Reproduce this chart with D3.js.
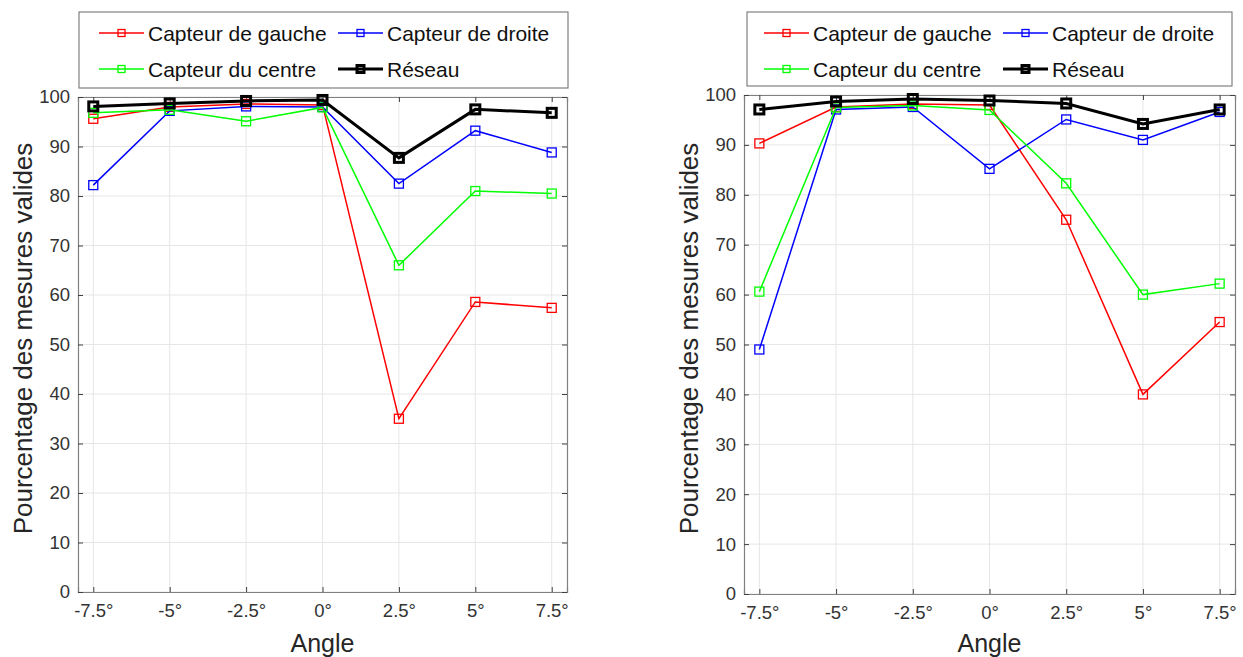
<!DOCTYPE html>
<html>
<head>
<meta charset="utf-8">
<script src="https://cdn.jsdelivr.net/npm/d3@7"></script>
<style>
  html, body { margin: 0; padding: 0; background: #fff; }
  svg { display: block; font-family: "Liberation Sans", Arial, Helvetica, sans-serif; }
</style>
</head>
<body>
<svg id="chart" width="1243" height="657"></svg>
<script>
// ---- Data ----
const angles = [-7.5, -5, -2.5, 0, 2.5, 5, 7.5];
const xTickLabels = ["-7.5°", "-5°", "-2.5°", "0°", "2.5°", "5°", "7.5°"];
const yTicks = [0, 10, 20, 30, 40, 50, 60, 70, 80, 90, 100];
const seriesNames = ["Capteur de gauche", "Capteur de droite", "Capteur du centre", "Réseau"];

// Left panel
const leftGauche = [95.6, 98.0, 98.6, 98.4, 35.0, 58.6, 57.4];
const leftDroite = [82.2, 97.2, 98.1, 98.0, 82.5, 93.2, 88.8];
const leftCentre = [96.8, 97.4, 95.1, 97.9, 66.0, 81.0, 80.5];
const leftReseau = [98.1, 98.7, 99.2, 99.4, 87.7, 97.5, 96.8];

// Right panel
const rightGauche = [90.3, 97.6, 98.2, 98.0, 75.0, 40.0, 54.5];
const rightDroite = [49.0, 97.1, 97.6, 85.2, 95.1, 91.0, 96.6];
const rightCentre = [60.6, 97.5, 97.9, 97.0, 82.3, 60.0, 62.2];
const rightReseau = [97.1, 98.7, 99.2, 98.9, 98.3, 94.2, 97.1];

const colors = ["#ff0000", "#0000ff", "#00ff00", "#000000"];

const svg = d3.select("#chart");

function drawPanel(p) {
  const x = d3.scaleLinear().domain([-8, 8]).range([p.left, p.right]);
  const y = d3.scaleLinear().domain([0, 100]).range([p.bottom, p.top]);
  const g = svg.append("g");

  // grid
  g.append("g").selectAll("line").data(angles).join("line")
    .attr("x1", d => x(d)).attr("x2", d => x(d))
    .attr("y1", p.top).attr("y2", p.bottom)
    .attr("stroke", "#e6e6e6").attr("stroke-width", 1);
  g.append("g").selectAll("line").data(yTicks).join("line")
    .attr("x1", p.left).attr("x2", p.right)
    .attr("y1", d => y(d)).attr("y2", d => y(d))
    .attr("stroke", "#e6e6e6").attr("stroke-width", 1);

  // axes (ticks inside)
  const xAxisB = d3.axisBottom(x).tickValues(angles).tickSize(-5).tickPadding(12)
    .tickFormat((d, i) => xTickLabels[i]);
  const gx = g.append("g").attr("transform", `translate(0,${p.bottom})`).call(xAxisB);
  const xAxisT = d3.axisTop(x).tickValues(angles).tickSize(-5).tickFormat("");
  const gxt = g.append("g").attr("transform", `translate(0,${p.top})`).call(xAxisT);
  const yAxisL = d3.axisLeft(y).tickValues(yTicks).tickSize(-5).tickPadding(8);
  const gy = g.append("g").attr("transform", `translate(${p.left},0)`).call(yAxisL);
  const yAxisR = d3.axisRight(y).tickValues(yTicks).tickSize(-5).tickFormat("");
  const gyr = g.append("g").attr("transform", `translate(${p.right},0)`).call(yAxisR);
  [gx, gxt, gy, gyr].forEach(a => {
    a.select(".domain").attr("stroke", "#808080").attr("stroke-width", 1.2);
    a.selectAll(".tick line").attr("stroke", "#404040").attr("stroke-width", 1);
    a.selectAll(".tick text").attr("fill", "#333").style("font-size", "18.5px")
      .style("font-family", '"Liberation Sans", Arial, sans-serif');
  });

  // axis titles
  g.append("text")
    .attr("x", (p.left + p.right) / 2).attr("y", 652)
    .attr("text-anchor", "middle").attr("fill", "#262626")
    .style("font-size", "25px").text("Angle");
  g.append("text")
    .attr("transform", `translate(${p.left - 46},${(p.top + p.bottom) / 2 - 6}) rotate(-90)`)
    .attr("text-anchor", "middle").attr("fill", "#262626")
    .style("font-size", "26px").text("Pourcentage des mesures valides");

  // lines
  const line = d3.line().x((d, i) => x(angles[i])).y(d => y(d));
  p.series.forEach((vals, k) => {
    const isNet = k === 3;
    g.append("path").datum(vals)
      .attr("d", line).attr("fill", "none")
      .attr("stroke", colors[k]).attr("stroke-width", isNet ? 3 : 1.5)
      .attr("stroke-linejoin", "miter");
    const ms = 9;
    g.append("g").selectAll("rect").data(vals).join("rect")
      .attr("x", (d, i) => x(angles[i]) - ms / 2)
      .attr("y", d => y(d) - ms / 2)
      .attr("width", ms).attr("height", ms)
      .attr("fill", "none")
      .attr("stroke", colors[k]).attr("stroke-width", isNet ? 3 : 1.3);
  });

  // legend
  const lg = svg.append("g");
  lg.append("rect")
    .attr("x", p.legend.x0).attr("y", p.legend.y0)
    .attr("width", p.legend.x1 - p.legend.x0).attr("height", p.legend.y1 - p.legend.y0)
    .attr("fill", "#fff").attr("stroke", "#808080").attr("stroke-width", 1.2);
  seriesNames.forEach((name, k) => {
    const col = k % 2, row = Math.floor(k / 2);
    const lx = p.legend.cols[col];
    const ly = p.legend.rows[row];
    const isNet = k === 3;
    lg.append("line").attr("x1", lx).attr("x2", lx + 45)
      .attr("y1", ly).attr("y2", ly)
      .attr("stroke", colors[k]).attr("stroke-width", isNet ? 3 : 1.5);
    const ms = 7;
    lg.append("rect").attr("x", lx + 22.5 - ms / 2).attr("y", ly - ms / 2)
      .attr("width", ms).attr("height", ms).attr("fill", "none")
      .attr("stroke", colors[k]).attr("stroke-width", isNet ? 3 : 1.3);
    lg.append("text").attr("x", lx + 49).attr("y", ly + 7.5)
      .attr("fill", "#111").style("font-size", "21px").text(name);
  });
}

drawPanel({
  left: 78, right: 567, top: 97, bottom: 592,
  series: [leftGauche, leftDroite, leftCentre, leftReseau],
  legend: { x0: 79, x1: 568, y0: 12, y1: 88, cols: [99, 338], rows: [33, 69] }
});
drawPanel({
  left: 744, right: 1235, top: 95, bottom: 594,
  series: [rightGauche, rightDroite, rightCentre, rightReseau],
  legend: { x0: 747, x1: 1232, y0: 12, y1: 86, cols: [764, 1003], rows: [33, 69] }
});
</script>
</body>
</html>
